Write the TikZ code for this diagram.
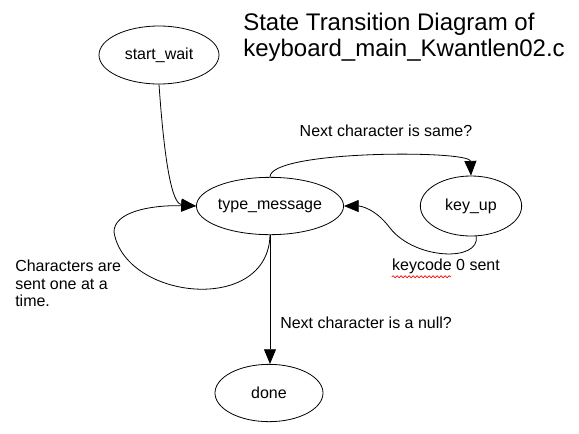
\documentclass[tikz,border=0pt]{standalone}
\usepackage{fontspec}
\setmainfont{Liberation Sans}
\usetikzlibrary{shapes.geometric,arrows.meta,decorations.pathmorphing}
\begin{document}
\begin{tikzpicture}[x=0.75pt,y=-0.75pt,
  state/.style={ellipse,draw,line width=0.6pt,inner sep=0pt,font=\fontsize{12}{13}\selectfont},
  conn/.style={line width=0.6pt,-{Triangle[length=11pt,width=9pt]}},
  lbl/.style={font=\fontsize{12}{13}\selectfont,inner sep=0pt}]
\useasboundingbox (0,0) rectangle (579,433);
\node[state,minimum width=90pt,minimum height=43.5pt] (sw) at (159,55) {start\_wait};
\node[state,minimum width=83pt,minimum height=43pt] (tm) at (270,206) {type\_message};
\node[state,minimum width=76pt,minimum height=45pt] (kp) at (471,206) {key\_up};
\node[state,minimum width=81pt,minimum height=43pt] (dn) at (269,393) {done};
\node[anchor=west,inner sep=0pt,align=left,font=\fontsize{18}{19.5}\selectfont] (title) at (243,37) {State Transition Diagram of\\keyboard\_main\_Kwantlen02.c};
\node[lbl] (l1) at (386,131) {Next character is same?};
\node[lbl] (l2) at (446,266) {keycode 0 sent};
\node[lbl,anchor=west] (l3) at (280,323) {Next character is a null?};
\node[lbl,anchor=north west,align=left] (l4) at (15,260) {Characters are\\sent one at a\\time.};
\draw[red,line width=0.5pt,decorate,decoration={snake,amplitude=0.8pt,segment length=3pt}] (l2.south west) ++(0,3) -- ++(59,0);
\draw[conn] (sw.south) .. controls (166,185) and (175,204) .. (tm.west);
\draw[conn] (tm.south) .. controls (268,315) and (125,300) .. (114,232) .. controls (114,212) and (150,205) .. (tm.west);
\draw[conn] (tm.north) .. controls (270,150) and (470,150) .. (kp.north);
\draw[conn] (kp.-80) .. controls (480,262) and (415,260) .. (390,228) .. controls (375,208) and (360,206) .. (tm.east);
\draw[conn] (tm.south) -- (tm.south |- dn.north);
\end{tikzpicture}
\end{document}
